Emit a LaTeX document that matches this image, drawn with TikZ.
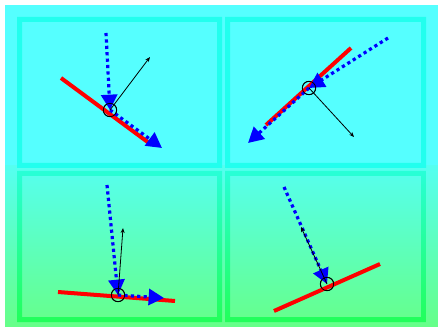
\documentclass[tikz,border=0pt]{standalone}
\usetikzlibrary{arrows.meta}
\definecolor{bgtop}{RGB}{85,255,255}
\definecolor{bgmid}{RGB}{85,255,240}
\definecolor{bgbot}{RGB}{102,255,136}
\definecolor{frtop}{RGB}{34,255,238}
\definecolor{frmid}{RGB}{40,255,215}
\definecolor{frbot}{RGB}{34,255,90}
\definecolor{rayblue}{RGB}{0,0,255}
\tikzset{
  surface/.style={draw=red, line width=3pt},
  ray/.style={draw=rayblue, line width=2.4pt, dash pattern=on 2.4pt off 2.4pt,
    -{Triangle[length=11.5pt,width=12pt,fill=rayblue]}},
  normal/.style={draw=black, line width=0.6pt, -{Stealth[length=3.75pt,width=3pt]}},
  hit/.style={circle, draw=black, line width=0.6pt, minimum size=10pt, inner sep=0pt},
}
\begin{document}
\begin{tikzpicture}[x=0.75pt,y=-0.75pt]
\useasboundingbox (0,0) rectangle (438,327);
% background
\fill[bgtop] (5,5) rectangle (438,166);
\shade[top color=bgmid, bottom color=bgbot] (5,166) rectangle (438,327);
% panel frames
\fill[frtop, even odd rule] (17,17) rectangle (222,168) (22,22) rectangle (217,163);
\fill[frtop, even odd rule] (225,17) rectangle (426,168) (230,22) rectangle (421,163);
\shade[top color=frmid, bottom color=frbot, even odd rule] (17,171) rectangle (222,322) (22,176) rectangle (217,317);
\shade[top color=frmid, bottom color=frbot, even odd rule] (225,171) rectangle (426,322) (230,176) rectangle (421,317);

% ---- panel 1
\node[hit] (h1) at (110,110) {};
\coordinate (s1a) at (61,78);
\coordinate (s1b) at (149,143);
\coordinate (i1) at (106,33);
\coordinate (o1) at (162,148);
\coordinate (n1) at (150,57);
\draw[surface] (s1a) -- (s1b);
\draw[ray] (i1) -- (h1.center);
\draw[ray] (h1.center) -- (o1);
\draw[normal] (h1.center) -- (n1);
\node[hit] at (h1) {};

% ---- panel 2
\node[hit] (h2) at (309,88) {};
\coordinate (s2a) at (351,48);
\coordinate (s2b) at (266,125);
\coordinate (i2) at (388,38);
\coordinate (o2) at (248,143);
\coordinate (n2) at (354,137);
\draw[surface] (s2a) -- (s2b);
\draw[ray] (i2) -- (h2.center);
\draw[ray] (h2.center) -- (o2);
\draw[normal] (h2.center) -- (n2);
\node[hit] at (h2) {};

% ---- panel 3
\node[hit] (h3) at (118,295) {};
\coordinate (s3a) at (58,292);
\coordinate (s3b) at (175,301);
\coordinate (i3) at (107,185);
\coordinate (o3) at (164,298);
\coordinate (n3) at (123,228);
\draw[surface] (s3a) -- (s3b);
\draw[ray] (i3) -- (h3.center);
\draw[ray] (h3.center) -- (o3);
\draw[normal] (h3.center) -- (n3);
\node[hit] at (h3) {};

% ---- panel 4
\node[hit] (h4) at (327,284) {};
\coordinate (s4a) at (274,311);
\coordinate (s4b) at (380,264);
\coordinate (i4) at (284,187);
\coordinate (n4) at (301,227);
\draw[surface] (s4a) -- (s4b);
\draw[ray] (i4) -- (h4.center);
\draw[normal] (h4.center) -- (n4);
\node[hit] at (h4) {};
\end{tikzpicture}
\end{document}
